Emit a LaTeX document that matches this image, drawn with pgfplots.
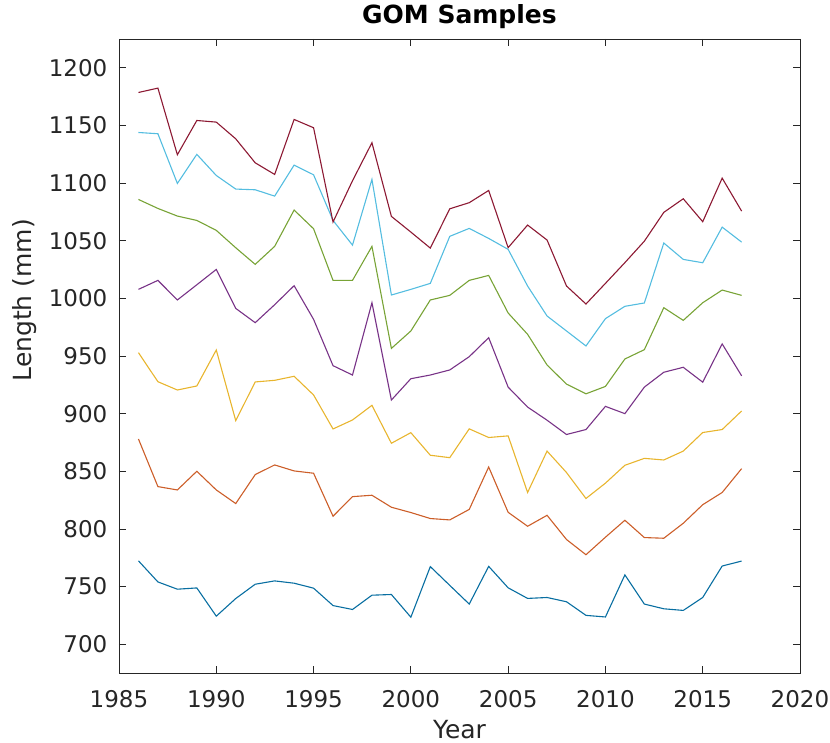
\documentclass[border=0pt]{standalone}
\usepackage{fontspec}
\setmainfont{DejaVu Sans}
\usepackage{pgfplots}
\usepackage{pgfplotstable}
\pgfplotsset{compat=1.18}
\definecolor{axgray}{rgb}{0.15,0.15,0.15}
\definecolor{mblue}{rgb}{0.03,0.43,0.63}
\definecolor{morange}{rgb}{0.80,0.37,0.16}
\definecolor{myellow}{rgb}{0.91,0.71,0.18}
\definecolor{mpurple}{rgb}{0.47,0.2,0.53}
\definecolor{mgreen}{rgb}{0.47,0.64,0.21}
\definecolor{mcyan}{rgb}{0.33,0.74,0.88}
\definecolor{mmaroon}{rgb}{0.55,0.1,0.2}
\pgfplotstableread{
year blue orange yellow purple green cyan maroon
1986 772.3 878.0 952.9 1007.8 1085.8 1143.9 1178.6
1987 754.0 836.7 927.7 1015.6 1078.0 1142.8 1182.4
1988 747.7 833.8 920.5 998.6 1071.4 1099.7 1124.6
1989 748.8 850.0 924.0 1011.8 1067.6 1124.9 1154.3
1990 724.3 833.8 955.2 1025.1 1059.0 1106.6 1152.9
1991 739.6 822.0 893.9 991.3 1043.9 1094.8 1138.4
1992 752.0 847.1 927.5 978.9 1029.5 1094.2 1117.6
1993 754.9 855.5 928.9 994.5 1045.1 1088.7 1107.5
1994 752.9 850.3 932.4 1011.0 1076.6 1115.6 1155.2
1995 748.6 848.3 916.2 981.8 1060.4 1107.2 1148.0
1996 733.5 811.0 886.7 941.6 1015.6 1067.6 1066.2
1997 730.1 828.0 894.5 933.5 1015.6 1046.2 1102.0
1998 742.5 829.2 907.2 996.2 1045.1 1103.2 1135.0
1999 743.1 818.8 874.3 911.8 956.6 1002.9 1071.1
2000 723.4 814.2 883.5 930.3 971.7 1007.8 1057.5
2001 767.3 809.0 863.9 933.5 998.6 1013.0 1043.6
2002 751.0 807.8 861.8 937.9 1002.6 1053.8 1077.7
2003 734.8 816.9 886.8 949.4 1015.6 1060.7 1083.0
2004 767.5 853.7 879.3 965.9 1019.9 1052.0 1093.6
2005 748.9 814.4 880.7 923.0 987.3 1042.5 1044.0
2006 739.7 802.3 831.6 905.7 968.8 1010.7 1063.6
2007 740.5 811.8 867.5 894.3 942.2 984.7 1050.6
2008 736.8 790.8 848.9 881.9 925.6 971.7 1010.7
2009 725.0 777.6 826.4 886.2 917.2 958.7 995.1
2010 723.6 792.8 839.7 906.3 923.6 982.4 1013.0
2011 760.1 807.5 855.2 900.0 947.4 993.1 1031.0
2012 734.8 792.5 861.2 923.0 955.5 996.0 1049.6
2013 730.7 791.9 859.8 935.9 991.9 1048.0 1074.6
2014 729.3 804.9 867.5 940.2 980.9 1033.8 1086.4
2015 740.5 821.0 883.6 927.3 996.2 1030.9 1066.5
2016 767.8 831.6 886.2 960.5 1007.2 1061.8 1104.3
2017 772.1 852.3 902.3 932.8 1002.6 1048.8 1075.7
}\gomdata
\begin{document}
\begin{tikzpicture}[font=\fontsize{23}{27}\selectfont]
\path[use as bounding box] (-119pt,-69pt) rectangle (711pt,673pt);
\begin{axis}[
  at={(0pt,0pt)}, anchor=south west,
  scale only axis, width=681pt, height=634pt,
  xmin=1985, xmax=2020, ymin=675, ymax=1225,
  xtick={1985,1990,...,2020}, ytick={700,750,...,1200},
  tick align=inside, major tick length=7pt,
  axis line style={draw=axgray, line width=0.8pt},
  every tick/.style={draw=axgray, line width=0.8pt},
  /pgf/number format/assume math mode=true,
  /pgf/number format/1000 sep={},
  ticklabel style={text=axgray, font=\fontsize{23}{27}\selectfont},
  xticklabel style={anchor=base, yshift=-34pt},
  yticklabel style={anchor=east, inner sep=0pt, xshift=-11.5pt},
  xlabel={Year}, ylabel={Length (mm)},
  xlabel style={at={(axis description cs:0.5,0)}, anchor=base, inner sep=0pt, yshift=-65pt, text=axgray, font=\fontsize{25}{30}\selectfont},
  every axis y label/.style={at={(axis description cs:-0.138,0.588)}, anchor=center, rotate=90, text=axgray, font=\fontsize{25}{30}\selectfont},
  title={GOM Samples},
  title style={at={(axis description cs:0.5,1)}, anchor=base, yshift=9.7pt, font=\fontsize{25}{30}\selectfont\bfseries},
  every axis plot/.append style={line width=1.1pt, no markers},
]
\addplot[mblue] table[x=year,y=blue]{\gomdata};
\addplot[morange] table[x=year,y=orange]{\gomdata};
\addplot[myellow] table[x=year,y=yellow]{\gomdata};
\addplot[mpurple] table[x=year,y=purple]{\gomdata};
\addplot[mgreen] table[x=year,y=green]{\gomdata};
\addplot[mcyan] table[x=year,y=cyan]{\gomdata};
\addplot[mmaroon] table[x=year,y=maroon]{\gomdata};
\end{axis}
\end{tikzpicture}
\end{document}
